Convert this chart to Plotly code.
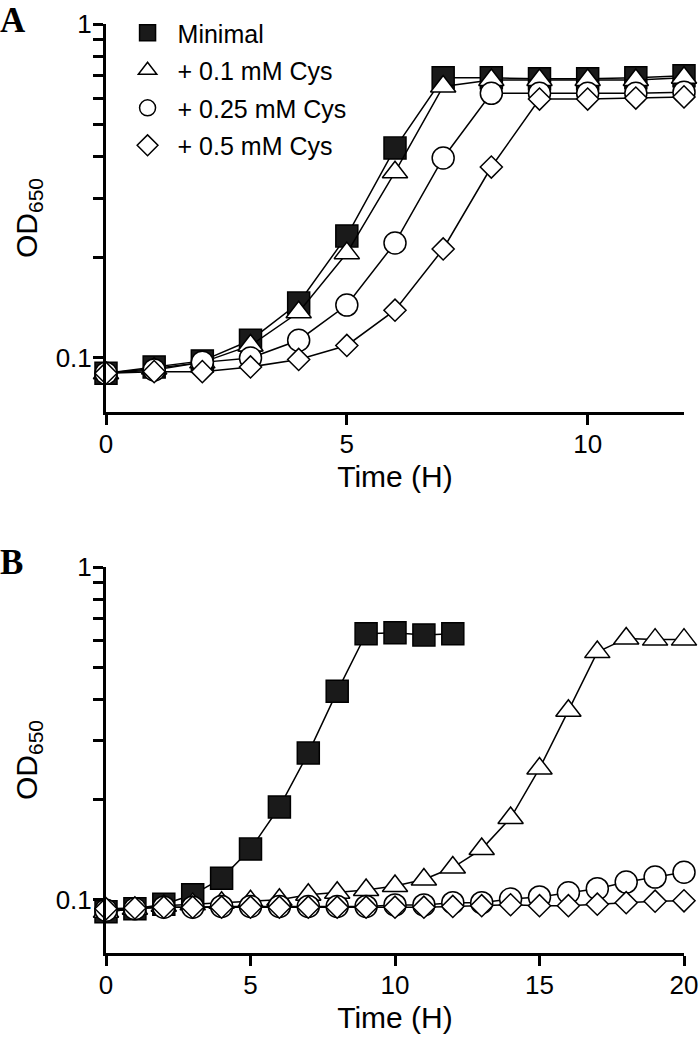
import plotly.graph_objects as go

# ---------------- data ----------------
series_names = ["Minimal", "+ 0.1 mM Cys", "+ 0.25 mM Cys", "+ 0.5 mM Cys"]

time_a = [0, 1, 2, 3, 4, 5, 6, 7, 8, 9, 10, 11, 12]
a_minimal = [0.090, 0.094, 0.098, 0.113, 0.146, 0.232, 0.425, 0.69, 0.69, 0.685, 0.685, 0.69, 0.70]
a_cys01   = [0.090, 0.093, 0.097, 0.109, 0.137, 0.206, 0.36, 0.65, 0.68, 0.68, 0.68, 0.68, 0.69]
a_cys025  = [0.090, 0.092, 0.097, 0.100, 0.113, 0.144, 0.221, 0.397, 0.62, 0.62, 0.62, 0.62, 0.625]
a_cys05   = [0.090, 0.091, 0.091, 0.094, 0.099, 0.109, 0.139, 0.212, 0.373, 0.596, 0.596, 0.60, 0.605]

time_b_min = [0, 1, 2, 3, 4, 5, 6, 7, 8, 9, 10, 11, 12]
b_minimal = [0.092, 0.094, 0.097, 0.1035, 0.116, 0.142, 0.19, 0.276, 0.423, 0.63, 0.635, 0.625, 0.63]
time_b = list(range(0, 21))
b_cys01  = [0.092, 0.094, 0.096, 0.097, 0.098, 0.099, 0.100, 0.1035, 0.105, 0.107, 0.110,
            0.115, 0.125, 0.142, 0.176, 0.248, 0.37, 0.555, 0.61, 0.605, 0.605]
b_cys025 = [0.093, 0.094, 0.095, 0.095, 0.0955, 0.0955, 0.0955, 0.0955, 0.0955, 0.0955, 0.0965,
            0.0965, 0.098, 0.098, 0.1005, 0.102, 0.105, 0.108, 0.113, 0.117, 0.121]
b_cys05  = [0.094, 0.0945, 0.095, 0.095, 0.095, 0.095, 0.095, 0.095, 0.095, 0.095, 0.095,
            0.095, 0.0955, 0.096, 0.0966, 0.096, 0.096, 0.097, 0.098, 0.099, 0.0993]

y_major_ticks = [0.1, 1.0]
y_major_text = ["0.1", "1"]
y_minor_ticks = [0.2, 0.3, 0.4, 0.5, 0.6, 0.7, 0.8, 0.9]
xa_ticks = [0, 5, 10]
xb_ticks = [0, 5, 10, 15, 20]

# ---------------- styles ----------------
FONT = "Liberation Sans, Arial, Helvetica, sans-serif"
styles = [
    dict(symbol="square", size=22, color="#1a1a1a"),
    dict(symbol="triangle-up", size=22, color="white"),
    dict(symbol="circle", size=22, color="white"),
    dict(symbol="diamond", size=17, color="white"),
]

fig = go.Figure()

def add(x, y, i, xa, ya):
    st = styles[i]
    fig.add_trace(go.Scatter(
        x=x, y=y, mode="lines+markers", name=series_names[i],
        xaxis=xa, yaxis=ya, showlegend=False, legendgroup=f"g{i}",
        cliponaxis=False,
        line=dict(color="black", width=1.5),
        marker=dict(symbol=st["symbol"], size=st["size"], color=st["color"],
                    line=dict(color="black", width=1.5)),
    ))

for i, ys in enumerate([a_minimal, a_cys01, a_cys025, a_cys05]):
    add(time_a, ys, i, "x", "y")
add(time_b_min, b_minimal, 0, "x2", "y2")
for i, ys in zip([1, 2, 3], [b_cys01, b_cys025, b_cys05]):
    add(time_b, ys, i, "x2", "y2")

# legend entries (markers only, as in the reference legend)
for i in range(4):
    st = styles[i]
    fig.add_trace(go.Scatter(
        x=[None], y=[None], mode="markers", name=series_names[i], legendgroup=f"g{i}",
        showlegend=True, xaxis="x", yaxis="y",
        marker=dict(symbol=st["symbol"], size=22, color=st["color"],
                    line=dict(color="black", width=1.5)),
    ))

axis_common = dict(showline=True, linecolor="black", linewidth=3, ticks="outside",
                   ticklen=10, tickwidth=3, tickcolor="black", showgrid=False, zeroline=False,
                   automargin=False,
                   tickfont=dict(family=FONT, size=26, color="black"))
y_minor = dict(tickmode="array", tickvals=y_minor_ticks, ticks="outside", ticklen=10,
               tickwidth=3, tickcolor="black", showgrid=False)
title_font = dict(family=FONT, size=30, color="black")

fig.update_layout(
    width=700, height=1049,
    margin=dict(l=106, r=16, t=24, b=96, autoexpand=False),
    paper_bgcolor="white", plot_bgcolor="white",
    font=dict(family=FONT, color="black"),
    xaxis=dict(domain=[0, 1], anchor="y", range=[0, 12], tickvals=xa_ticks, ticklabelstandoff=-3,
               title=dict(text="Time (H)", font=title_font, standoff=8), **axis_common),
    yaxis=dict(domain=[0.5824, 1], anchor="x", type="log", range=[-1.1617, 0],
               tickvals=y_major_ticks, ticktext=y_major_text, ticklabelstandoff=-4, minor=y_minor,
               title=dict(text="OD<sub>650</sub>", font=title_font, standoff=10), **axis_common),
    xaxis2=dict(domain=[0, 1], anchor="y2", range=[0, 20], tickvals=xb_ticks, ticklabelstandoff=-3,
                title=dict(text="Time (H)", font=title_font, standoff=8), **axis_common),
    yaxis2=dict(domain=[0, 0.4155], anchor="x2", type="log", range=[-1.16, 0],
                tickvals=y_major_ticks, ticktext=y_major_text, ticklabelstandoff=-4, minor=y_minor,
                title=dict(text="OD<sub>650</sub>", font=title_font, standoff=10), **axis_common),
    legend=dict(x=0.02, y=1.015, xanchor="left", yanchor="top", traceorder="grouped",
                tracegroupgap=2, itemwidth=50, bgcolor="rgba(0,0,0,0)",
                font=dict(family=FONT, size=25, color="black")),
    annotations=[
        dict(text="<b>A</b>", xref="paper", yref="paper", x=-0.186, y=1.027, xanchor="left", yanchor="top",
             showarrow=False, font=dict(family="Liberation Serif, Times New Roman, serif", size=35, color="black")),
        dict(text="<b>B</b>", xref="paper", yref="paper", x=-0.186, y=0.443, xanchor="left", yanchor="top",
             showarrow=False, font=dict(family="Liberation Serif, Times New Roman, serif", size=35, color="black")),
    ],
)

fig.write_html("out.html", config={"displayModeBar": False},
               post_script="document.body.style.margin='0';")
